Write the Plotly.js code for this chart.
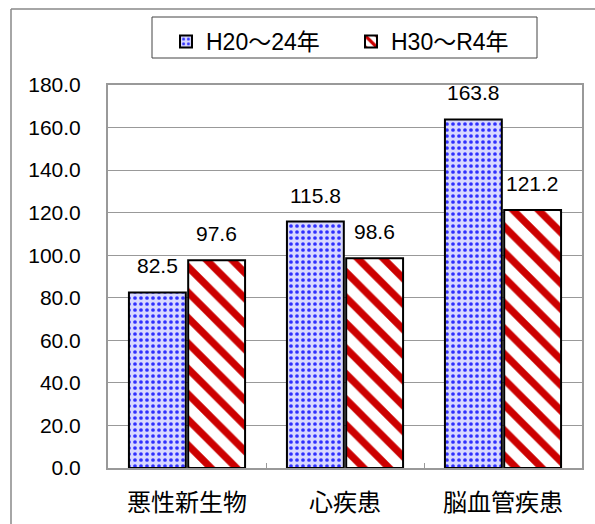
<!DOCTYPE html>
<html><head><meta charset="utf-8">
<script src="https://cdn.plot.ly/plotly-3.0.1.min.js"></script>
<style>html,body{margin:0;padding:0;background:#fff}#chart{width:595px;height:524px}</style>
</head><body><div id="chart"></div>
<script>
const categories = ['悪性新生物', '心疾患', '脳血管疾患'];
const seriesNames = ['H20～24年', 'H30～R4年'];
const valuesH20 = [82.5, 115.8, 163.8];
const valuesH30 = [97.6, 98.6, 121.2];
const yTicks = [0, 20, 40, 60, 80, 100, 120, 140, 160, 180];

const W = 595, H = 524;
const M = {l: 108, r: 13, t: 85, b: 56};
const PW = W - M.l - M.r, PH = H - M.t - M.b;
const px = x => (x - M.l) / PW;
const py = y => (H - M.b - y) / PH;

const numFont = 'Liberation Sans, Arial, Noto Sans CJK JP, sans-serif';
const jpFont = 'Noto Sans CJK JP, sans-serif';

const bargap = 0.25, bargroupgap = 0.04;
const slot = PW / categories.length * (1 - bargap) / 2;

const traces = [
  {type: 'bar', name: seriesNames[0], x: categories, y: valuesH20,
   marker: {color: '#d8d8ff', line: {color: '#000', width: 2},
            pattern: {shape: '.', size: 6, solidity: 0.3, fgcolor: '#3030ff', bgcolor: '#d8d8ff'}},
   hoverinfo: 'skip'},
  {type: 'bar', name: seriesNames[1], x: categories, y: valuesH30,
   marker: {color: '#ffffff', line: {color: '#000', width: 2},
            pattern: {shape: '\\', size: 18, solidity: 0.4, fgcolor: '#cc0000', bgcolor: '#ffffff'}},
   hoverinfo: 'skip'}
];

const annotations = [];
[valuesH20, valuesH30].forEach((vals, si) => {
  vals.forEach((v, i) => {
    annotations.push({x: categories[i], y: v, xref: 'x', yref: 'y', text: v.toFixed(1),
      showarrow: false, yanchor: 'bottom', yshift: 13, xshift: (si === 0 ? -1 : 1) * slot / 2,
      font: {family: numFont, size: 21, color: '#000'}});
  });
});

const layout = {
  width: W, height: H,
  margin: M,
  paper_bgcolor: '#fff', plot_bgcolor: '#fff',
  barmode: 'group', bargap: bargap, bargroupgap: bargroupgap,
  showlegend: true,
  legend: {orientation: 'h', x: px(166), y: py(20), xanchor: 'left', yanchor: 'top',
           font: {family: numFont, size: 23, color: '#000'}, bgcolor: 'rgba(0,0,0,0)',
           borderwidth: 0, entrywidth: 140, traceorder: 'normal'},
  xaxis: {type: 'category', showline: true, mirror: true, linecolor: '#999', linewidth: 2,
          ticks: 'inside', tickson: 'boundaries', ticklen: 5, tickcolor: '#999', tickwidth: 1,
          ticklabelstandoff: 12, showgrid: false,
          tickfont: {family: jpFont, size: 24, color: '#000'}},
  yaxis: {range: [0, 180], tickvals: yTicks, ticktext: yTicks.map(v => v.toFixed(1)),
          showline: true, mirror: true, linecolor: '#999', linewidth: 2,
          showgrid: true, gridcolor: '#999', gridwidth: 1, zeroline: false,
          ticks: '', ticklabelstandoff: 21,
          tickfont: {family: numFont, size: 21, color: '#000'}},
  annotations: annotations,
  shapes: [
    {type: 'line', xref: 'paper', yref: 'paper', x0: px(11), x1: px(11), y0: py(9), y1: py(530), line: {color: '#888', width: 1.5}},
    {type: 'line', xref: 'paper', yref: 'paper', x0: px(11), x1: px(600), y0: py(9), y1: py(9), line: {color: '#888', width: 1.5}},
    {type: 'rect', xref: 'paper', yref: 'paper', x0: px(152), x1: px(537), y0: py(17), y1: py(58), line: {color: '#444', width: 1}}
  ]
};

Plotly.newPlot('chart', traces, layout, {staticPlot: true, displayModeBar: false});
</script></body></html>
